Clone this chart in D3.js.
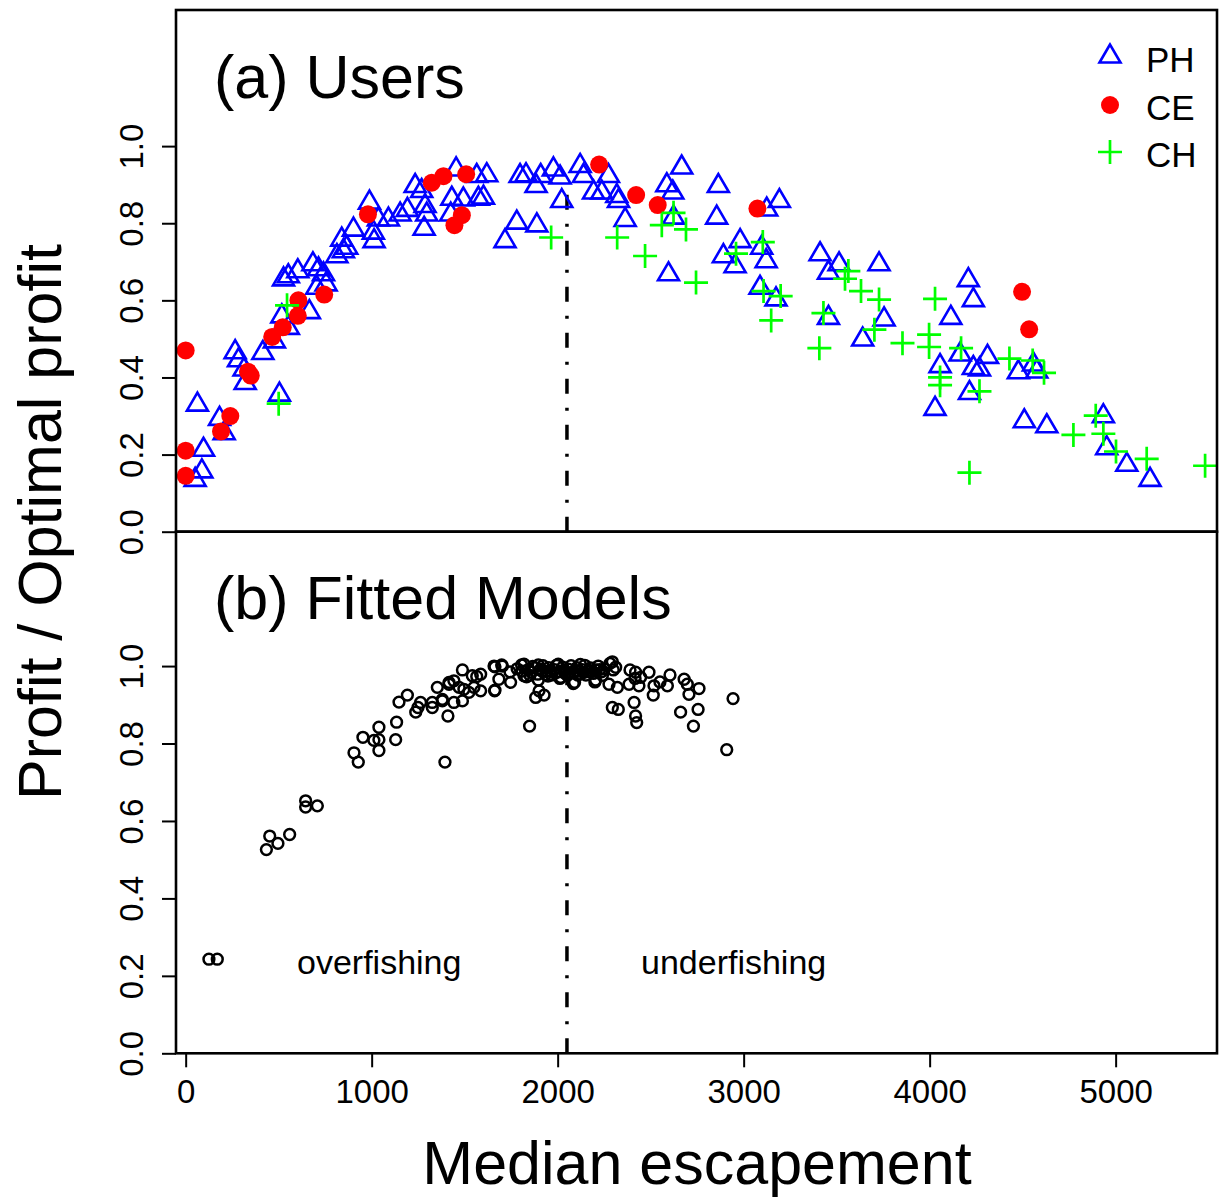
<!DOCTYPE html>
<html>
<head>
<meta charset="utf-8">
<script src="https://cdn.jsdelivr.net/npm/d3@7"></script>
<style>
  body { margin: 0; background: #fff; }
  text { font-family: "Liberation Sans", Arial, Helvetica, sans-serif; }
</style>
</head>
<body>
<div id="chart"></div>
<script>
// (a) users: [median escapement, profit / optimal profit]
var phData = [[63,0.336],[51,0.141],[87,0.163],[96,0.219],[182,0.299],[207,0.262],[266,0.472],[284,0.451],
  [320,0.392],[314,0.427],[415,0.470],[504,0.362],[477,0.50],[526,0.661],[552,0.669],[603,0.682],[517,0.565],
  [552,0.535],[665,0.576],[684,0.70],[714,0.687],[741,0.674],[755,0.648],[705,0.639],[813,0.721],[848,0.734],
  [866,0.743],[839,0.764],[902,0.790],[988,0.860],[1009,0.782],[1013,0.760],[1036,0.816],[1090,0.816],
  [1153,0.829],[1192,0.841],[1234,0.903],[1269,0.89],[1287,0.851],[1296,0.829],[1282,0.792],[1431,0.870],
  [1425,0.829],[1454,0.946],[1493,0.868],[1574,0.870],[1565,0.929],[1619,0.931],[1717,0.760],[1780,0.808],
  [1798,0.929],[1601,0.873],[1888,0.801],[1830,0.931],[1884,0.903],[1909,0.929],[1977,0.946],[2013,0.925],
  [2022,0.864],[2121,0.955],[2139,0.929],[2193,0.886],[2237,0.886],[2273,0.929],[2318,0.877],[2327,0.864],
  [2363,0.815],[2587,0.905],[2619,0.886],[2623,0.821],[2596,0.674],[2667,0.951],[2864,0.903],[2855,0.821],
  [2981,0.760],[2891,0.721],[2954,0.695],[3124,0.842],[3192,0.864],[3097,0.743],[3121,0.708],[3088,0.639],
  [3174,0.609],[3411,0.726],[3456,0.678],[3456,0.561],[3513,0.70],[3728,0.70],[3755,0.557],[3640,0.505],
  [4208,0.659],[4235,0.607],[4114,0.561],[4056,0.436],[4164,0.466],[4311,0.460],[4235,0.431],[4268,0.427],
  [4214,0.366],[4029,0.325],[4477,0.42],[4558,0.440],[4576,0.422],[4509,0.293],[4630,0.28],[4934,0.306],
  [4952,0.223],[5060,0.180],[5185,0.141]];

var ceData = [[0,0.47],[0,0.21],[0,0.145],[240,0.30],[190,0.26],[335,0.415],[350,0.405],[465,0.505],
  [522,0.53],[606,0.60],[603,0.56],[745,0.615],[980,0.823],[1323,0.905],[1386,0.922],[1508,0.927],
  [1485,0.821],[1445,0.795],[2223,0.952],[2422,0.873],[2538,0.847],[3074,0.838],[4497,0.622],[4535,0.525]];

var chData = [[545,0.587],[500,0.332],[1965,0.763],[2320,0.763],[2470,0.715],[2560,0.795],[2623,0.827],
  [2690,0.784],[2744,0.646],[2959,0.721],[3103,0.751],[3107,0.624],[3199,0.611],[3148,0.548],[3429,0.567],
  [3407,0.476],[3563,0.676],[3545,0.656],[3631,0.624],[3728,0.602],[3703,0.524],[3854,0.489],[4029,0.604],
  [3997,0.511],[3997,0.479],[4056,0.40],[4056,0.38],[4169,0.476],[4268,0.364],[4214,0.153],[4429,0.449],
  [4554,0.444],[4615,0.412],[4773,0.251],[4893,0.301],[4934,0.254],[5002,0.208],[5167,0.189],[5481,0.171]];

// (b) fitted models
var fitData = [[125,0.243],[170,0.243],[434,0.526],[452,0.561],[496,0.542],[559,0.565],[645,0.652],[645,0.636],
  [708,0.639],[905,0.776],[928,0.752],[953,0.816],[1012,0.808],[1039,0.810],[1039,0.842],[1039,0.782],
  [1129,0.810],[1134,0.855],[1147,0.907],[1192,0.925],[1237,0.881],[1249,0.893],[1263,0.906],[1326,0.893],
  [1326,0.906],[1380,0.910],[1353,0.945],[1410,0.871],[1394,0.752],[1416,0.958],[1442,0.906],[1488,0.990],
  [1488,0.910],[1442,0.962],[1496,0.940],[1380,0.914],[1416,0.953],[1470,0.945],[1541,0.975],[1550,0.945],
  [1586,0.979],[1586,0.936],[1523,0.932],[1658,1.0],[1703,1.0],[1661,0.936],[1684,0.966],[1747,0.958],
  [1819,1.005],[1819,0.975],[1849,0.845],[1882,0.919],[1900,0.936],[1927,0.925],[2016,0.971],[2091,0.958],
  [2204,0.964],[2294,1.011],[2312,0.997],[2276,0.953],[2321,0.945],[2294,0.893],[2326,0.888],[2384,0.953],
  [2411,0.906],[2419,0.871],[2425,0.854],[2419,0.984],[2446,0.971],[2437,0.949],[2491,0.984],[2518,0.949],
  [2514,0.925],[2550,0.959],[2590,0.949],[2604,0.977],[2661,0.881],[2680,0.966],[2697,0.953],[2706,0.927],
  [2730,0.845],[2760,0.942],[2755,0.888],[2909,0.784],[2943,0.916],
  [1565,0.973],[1663,0.998],[1699,1.003],[1663,0.938],[1744,0.985],[1806,1.003],[1833,0.972],[1896,0.964],
  [2012,0.968],[2084,0.955],[2200,0.959],[2281,1.007],[2299,0.99],[2389,0.99],[2416,0.968],
  [1842,0.991],[1858,0.984],[1877,0.996],[1893,0.979],[1908,0.992],[1921,1.001],[1938,0.986],[1952,0.996],
  [1967,0.977],[1983,0.991],[1994,1.002],[2011,0.986],[2027,0.997],[2041,0.981],[2058,0.992],[2072,1.001],
  [2088,0.984],[2103,0.996],[2117,0.979],[2132,0.991],[2146,1.002],[2161,0.986],[2177,0.995],[2192,0.981],
  [2207,0.99],[2218,1.0],[2236,0.985],[2252,0.993],[1851,0.976],[1948,0.974],[2053,0.976],[2152,0.977],
  [1896,1.003],[2003,1.005],[2122,1.004],[2241,0.976],
  [1782,0.993],[1809,0.987],[1866,0.999],[1915,0.987],[1959,0.989],[2034,0.989],[2066,0.983],[2097,0.989],
  [2139,0.983],[2171,0.989],[2226,0.991],[1935,0.978],[2108,0.977],[1988,0.982]];

var optEscapement = 2050;
var optLineTop = [0.875, 1.0];
var xTicks = [0, 1000, 2000, 3000, 4000, 5000];
var yTicks = [0, 0.2, 0.4, 0.6, 0.8, 1.0];
var legendLabels = ["PH", "CE", "CH"];

var W = 1219, H = 1197;
var svg = d3.select("#chart").append("svg")
  .attr("width", W)
  .attr("height", H);

var left = 176, right = 1217;
var x = d3.scaleLinear().domain([-52, 5545]).range([left, right]);
var yTop = d3.scaleLinear().domain([0, 1.353]).range([531.7, 10]);
var yBot = d3.scaleLinear().domain([0, 1.347]).range([1053.3, 531.7]);

// y axes for both panels
[yTop, yBot].forEach(function(y) {
  var g = svg.append("g")
    .attr("transform", "translate(" + left + ",0)")
    .call(d3.axisLeft(y).tickValues(yTicks).tickSize(14).tickFormat(d3.format(".1f")));
  g.select(".domain").remove();
  g.selectAll(".tick line").attr("stroke-width", 2);
  g.selectAll(".tick text")
    .attr("x", null).attr("dy", null)
    .attr("text-anchor", "middle")
    .attr("transform", "translate(-33,0) rotate(-90)")
    .style("font-size", "33px")
    .attr("fill", "#000");
});

// x axis
var gx = svg.append("g")
  .attr("transform", "translate(0,1053.3)")
  .call(d3.axisBottom(x).tickValues(xTicks).tickSize(14).tickFormat(d3.format("d")));
gx.select(".domain").remove();
gx.selectAll(".tick line").attr("stroke-width", 2);
gx.selectAll(".tick text")
  .attr("y", 50).attr("dy", null)
  .style("font-size", "33px")
  .attr("fill", "#000");

// optimal escapement lines
svg.selectAll(".opt")
  .data([yTop, yBot])
  .enter().append("line")
    .attr("x1", x(optEscapement)).attr("x2", x(optEscapement))
    .attr("y1", function(y) { return y(0); })
    .attr("y2", function(y, i) { return y(optLineTop[i]); })
    .attr("stroke", "#000")
    .attr("stroke-width", 3.5)
    .attr("stroke-dasharray", "15,14,3,14");

// symbols
function triPath(cx, cy) {
  return "M" + cx + "," + (cy - 9.5) + "L" + (cx - 10.5) + "," + (cy + 8.5) + "L" + (cx + 10.5) + "," + (cy + 8.5) + "Z";
}
function crossPath(cx, cy) {
  return "M" + (cx - 12) + "," + cy + "H" + (cx + 12) + "M" + cx + "," + (cy - 12) + "V" + (cy + 12);
}

var gTop = svg.append("g");
gTop.selectAll(".ph")
  .data(phData)
  .enter().append("path")
    .attr("d", function(d) { return triPath(x(d[0]), yTop(d[1])); })
    .attr("fill", "none")
    .attr("stroke", "#0000FF")
    .attr("stroke-width", 2.6);

gTop.selectAll(".ce")
  .data(ceData)
  .enter().append("circle")
    .attr("cx", function(d) { return x(d[0]); })
    .attr("cy", function(d) { return yTop(d[1]); })
    .attr("r", 9)
    .attr("fill", "#FF0000");

gTop.selectAll(".ch")
  .data(chData)
  .enter().append("path")
    .attr("d", function(d) { return crossPath(x(d[0]), yTop(d[1])); })
    .attr("stroke", "#00FF00")
    .attr("stroke-width", 2.7)
    .attr("fill", "none");

svg.append("g").selectAll("circle")
  .data(fitData)
  .enter().append("circle")
    .attr("cx", function(d) { return x(d[0]); })
    .attr("cy", function(d) { return yBot(d[1]); })
    .attr("r", 5.4)
    .attr("fill", "none")
    .attr("stroke", "#000")
    .attr("stroke-width", 2.5);

// panel boxes
svg.append("rect")
  .attr("x", left).attr("y", 10)
  .attr("width", right - left).attr("height", 521.7)
  .attr("fill", "none").attr("stroke", "#000").attr("stroke-width", 2.6);
svg.append("rect")
  .attr("x", left).attr("y", 531.7)
  .attr("width", right - left).attr("height", 521.6)
  .attr("fill", "none").attr("stroke", "#000").attr("stroke-width", 2.6);

// panel titles
svg.append("text")
  .attr("x", 214).attr("y", 98)
  .style("font-size", "61px")
  .text("(a) Users");
svg.append("text")
  .attr("x", 214).attr("y", 619)
  .style("font-size", "61px")
  .text("(b) Fitted Models");

svg.append("text")
  .attr("x", 297).attr("y", 974)
  .style("font-size", "34px")
  .text("overfishing");
svg.append("text")
  .attr("x", 641).attr("y", 974)
  .style("font-size", "34px")
  .text("underfishing");

// legend
var legend = svg.append("g");
legend.append("path").attr("d", triPath(1110, 54))
  .attr("fill", "none").attr("stroke", "#0000FF").attr("stroke-width", 2.6);
legend.append("circle").attr("cx", 1110).attr("cy", 105).attr("r", 9).attr("fill", "#FF0000");
legend.append("path").attr("d", crossPath(1110, 152))
  .attr("stroke", "#00FF00").attr("stroke-width", 2.7);
legend.selectAll("text")
  .data(legendLabels)
  .enter().append("text")
    .attr("x", 1146)
    .attr("y", function(d, i) { return 72 + i * 47.5; })
    .style("font-size", "35px")
    .text(function(d) { return d; });

// axis titles
svg.append("text")
  .attr("x", 697).attr("y", 1184)
  .attr("text-anchor", "middle")
  .style("font-size", "61px")
  .text("Median escapement");
svg.append("text")
  .attr("transform", "translate(61,522) rotate(-90)")
  .attr("text-anchor", "middle")
  .style("font-size", "61px")
  .text("Profit / Optimal profit");
</script>
</body>
</html>
